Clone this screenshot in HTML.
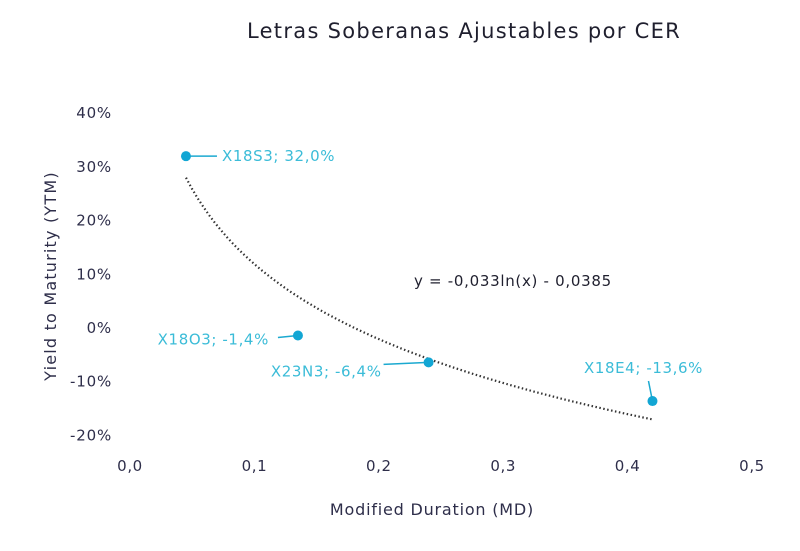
<!DOCTYPE html>
<html><head><meta charset="utf-8"><style>
body{margin:0;background:#fff;}
svg{display:block;font-family:"DejaVu Sans","Liberation Sans",sans-serif;}
</style></head><body>
<svg id="chart" width="800" height="551" viewBox="0 0 800 551">
<text x="464" y="38" text-anchor="middle" font-size="21" letter-spacing="1.3" fill="#1f1f2e">Letras Soberanas Ajustables por CER</text>
<text x="432" y="515" text-anchor="middle" font-size="16" letter-spacing="0.8" fill="#2e2e4a">Modified Duration (MD)</text>
<text transform="translate(56,276) rotate(-90)" text-anchor="middle" font-size="16" letter-spacing="1.2" fill="#2e2e4a">Yield to Maturity (YTM)</text>
<text x="414" y="286" font-size="15" letter-spacing="0.7" fill="#1f1f2e">y = -0,033ln(x) - 0,0385</text>
<g id="ticks"></g><g id="plot"></g>
</svg>
<script>
const xTicks=[0,0.1,0.2,0.3,0.4,0.5];
const xTickLabels=["0,0","0,1","0,2","0,3","0,4","0,5"];
const yTicks=[40,30,20,10,0,-10,-20];
const yTickLabels=["40%","30%","20%","10%","0%","-10%","-20%"];
const names=["X18S3","X18O3","X23N3","X18E4"];
const durations=[0.045,0.135,0.24,0.42];
const yields=[32.0,-1.4,-6.4,-13.6];
const labels=["X18S3; 32,0%","X18O3; -1,4%","X23N3; -6,4%","X18E4; -13,6%"];
const trendA=-20.15, trendB=-34.5;
const X=v=>130+v*1244;
const Y=v=>328-v*5.37;
const NS="http://www.w3.org/2000/svg";
const tk=document.getElementById('ticks'), pl=document.getElementById('plot');
function mk(tag,at,parent){const e=document.createElementNS(NS,tag);for(const k in at)e.setAttribute(k,at[k]);parent.appendChild(e);return e;}
xTicks.forEach((v,i)=>{const t=mk('text',{x:X(v),y:471,'text-anchor':'middle','font-size':15,'letter-spacing':0.6,fill:'#2e2e4a'},tk);t.textContent=xTickLabels[i];

});
yTicks.forEach((v,i)=>{const t=mk('text',{x:112,y:Y(v)+5,'text-anchor':'end','font-size':15,'letter-spacing':0.8,fill:'#2e2e4a'},tk);t.textContent=yTickLabels[i];

});
let d='';const x0=durations[0],x1=durations[durations.length-1];
for(let i=0;i<=80;i++){const x=x0+(x1-x0)*i/80;const y=trendA*Math.log(x)+trendB;d+=(i?'L':'M')+X(x).toFixed(1)+' '+Y(y).toFixed(1);}
const tl=mk('path',{d:d,fill:'none',stroke:'#333','stroke-width':2.2,'stroke-dasharray':'1.5 2.5'},pl);


durations.forEach((v,i)=>{const cx=X(v),cy=Y(yields[i]);
const ln=mk('line',{x1:cx,y1:cy,x2:cx+(i==3?-4:(i==2?-45:(i==1?-20:31))),y2:cy+(i==3?-20:(i==2?2:(i==1?2:0))),stroke:'#1ba9d0','stroke-width':1.5},pl);


const c=mk('circle',{cx:cx,cy:cy,r:5,fill:'#12a6d4'},pl);


let lx,ly,anc;
if(i==0){lx=cx+36;ly=cy+5;anc='start';}
else if(i==1){lx=cx-29;ly=cy+9;anc='end';}
else if(i==2){lx=cx-47;ly=cy+14;anc='end';}
else{lx=cx-9;ly=cy-28;anc='middle';}
const t=mk('text',{x:lx,y:ly,'text-anchor':anc,'font-size':15,'letter-spacing':0.6,fill:'#3bbcd8'},pl);t.textContent=labels[i];

});
</script>
</body></html>
